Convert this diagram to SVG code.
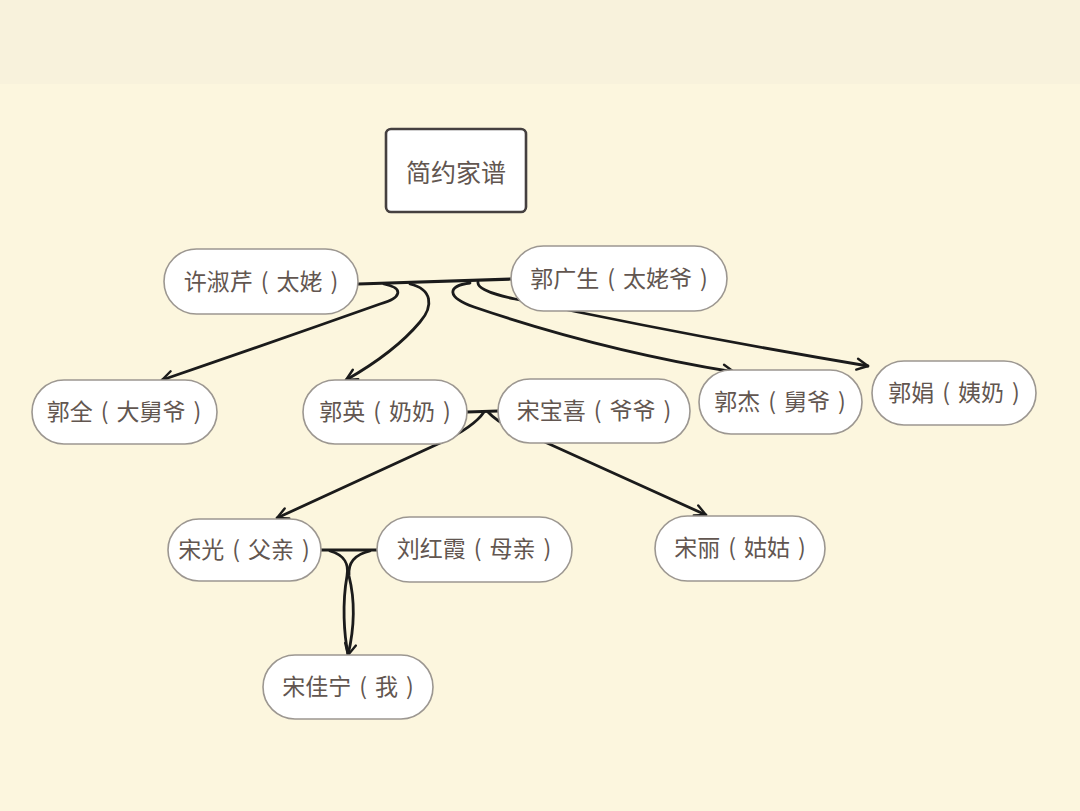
<svg xmlns="http://www.w3.org/2000/svg" width="1080" height="811" viewBox="0 0 1080 811">
<defs>
<style>
.bg{fill:#fcf6de}
.node{fill:#ffffff;stroke:#9c9791;stroke-width:1.6}
.title{fill:#ffffff;stroke:#454040;stroke-width:2.6}
.t{font-family:"Noto Sans CJK SC","Noto Sans CJK TC",sans-serif;font-size:23px;fill:#625650;text-anchor:middle}
.tt{font-size:25px}
.c{fill:none;stroke:#1b1b1b;stroke-width:2.8;stroke-linecap:round}
.m{fill:none;stroke:#1b1b1b;stroke-width:3.2;stroke-linecap:round}
</style>
<marker id="arr" viewBox="0 0 14 14" refX="13" refY="7" markerWidth="14" markerHeight="14" markerUnits="userSpaceOnUse" orient="auto">
<path d="M2,1.5 L13,7 L2,12.5" fill="none" stroke="#1b1b1b" stroke-width="2.4" stroke-linecap="round" stroke-linejoin="round"/>
</marker>
</defs>
<rect class="bg" x="0" y="0" width="1080" height="811"/>
<rect x="0" y="0" width="1080" height="84" fill="#f8f2dc"/>

<g id="connectors">
<path class="m" d="M358,284 L511,279"/>
<path class="c" d="M384,284 C404,288 402,298 380,304 Q270,343 162,380" marker-end="url(#arr)"/>
<path class="c" d="M410,284 C432,289 434,306 420,322 Q395,352 346,380" marker-end="url(#arr)"/>
<path class="c" d="M470,283 C447,286 446,297 474,307 Q600,350 734,372" marker-end="url(#arr)"/>
<path class="c" d="M478,282 C477,287 486,293 515,299 Q700,338 868,366" marker-end="url(#arr)"/>
<path class="m" d="M467,412 L498,411"/>
<path class="c" d="M484,412 Q474,427 440,443 L277,518" marker-end="url(#arr)"/>
<path class="c" d="M488,412 Q500,425 525,433 L706,515" marker-end="url(#arr)"/>
<path class="m" d="M321,550 L377,550"/>
<path class="c" d="M330,551 C345,555 349,565 347,576 C342,604 344,634 348,654"/>
<path class="c" d="M370,551 C352,555 348,565 349,576 C356,604 353,634 348,655" marker-end="url(#arr)"/>
</g>

<g id="title">
<rect class="title" x="386" y="129" width="140" height="83" rx="5"/>
<text class="t tt" x="456" y="182">简约家谱</text>
</g>
<g id="n_xushuqin">
<rect class="node" x="164" y="249" width="194" height="65" rx="32.5"/>
<text class="t" x="261" y="290">许淑芹<tspan dx="8">(</tspan><tspan dx="8">太姥</tspan><tspan dx="8">)</tspan></text>
</g>
<g id="n_guoguangsheng">
<rect class="node" x="511" y="246" width="216" height="65" rx="32.5"/>
<text class="t" x="619" y="287">郭广生<tspan dx="8">(</tspan><tspan dx="8">太姥爷</tspan><tspan dx="8">)</tspan></text>
</g>
<g id="n_guoquan">
<rect class="node" x="32" y="380" width="185" height="64" rx="32"/>
<text class="t" x="124" y="420">郭全<tspan dx="8">(</tspan><tspan dx="8">大舅爷</tspan><tspan dx="8">)</tspan></text>
</g>
<g id="n_guoying">
<rect class="node" x="303" y="380" width="164" height="64" rx="32"/>
<text class="t" x="385" y="420">郭英<tspan dx="8">(</tspan><tspan dx="8">奶奶</tspan><tspan dx="8">)</tspan></text>
</g>
<g id="n_songbaoxi">
<rect class="node" x="498" y="379" width="192" height="64" rx="32"/>
<text class="t" x="594" y="419">宋宝喜<tspan dx="8">(</tspan><tspan dx="8">爷爷</tspan><tspan dx="8">)</tspan></text>
</g>
<g id="n_guojie">
<rect class="node" x="699" y="370" width="163" height="64" rx="32"/>
<text class="t" x="780" y="410">郭杰<tspan dx="8">(</tspan><tspan dx="8">舅爷</tspan><tspan dx="8">)</tspan></text>
</g>
<g id="n_guojuan">
<rect class="node" x="872" y="361" width="164" height="64" rx="32"/>
<text class="t" x="954" y="401">郭娟<tspan dx="8">(</tspan><tspan dx="8">姨奶</tspan><tspan dx="8">)</tspan></text>
</g>
<g id="n_songguang">
<rect class="node" x="168" y="519" width="153" height="62" rx="31"/>
<text class="t" x="244" y="558">宋光<tspan dx="8">(</tspan><tspan dx="8">父亲</tspan><tspan dx="8">)</tspan></text>
</g>
<g id="n_liuhongxia">
<rect class="node" x="377" y="517" width="195" height="65" rx="32.5"/>
<text class="t" x="474" y="557">刘红霞<tspan dx="8">(</tspan><tspan dx="8">母亲</tspan><tspan dx="8">)</tspan></text>
</g>
<g id="n_songli">
<rect class="node" x="655" y="516" width="170" height="65" rx="32.5"/>
<text class="t" x="740" y="556">宋丽<tspan dx="8">(</tspan><tspan dx="8">姑姑</tspan><tspan dx="8">)</tspan></text>
</g>
<g id="n_songjianing">
<rect class="node" x="263" y="655" width="170" height="64" rx="32"/>
<text class="t" x="348" y="695">宋佳宁<tspan dx="8">(</tspan><tspan dx="8">我</tspan><tspan dx="8">)</tspan></text>
</g>
</svg>
